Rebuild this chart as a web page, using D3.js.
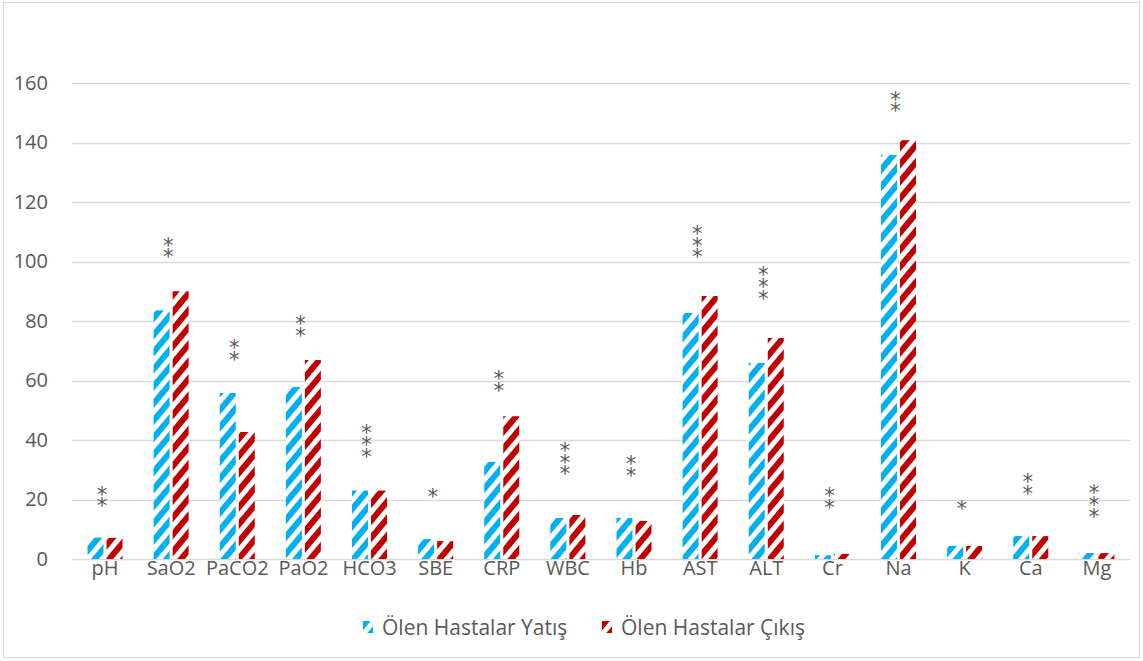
<!DOCTYPE html>
<html>
<head>
<meta charset="utf-8">
<script src="https://cdn.jsdelivr.net/npm/d3@7"></script>
<style>
    body { margin: 0; background: #fff; }
    text { font-family: "Open Sans", Lato, sans-serif; fill: #595959; }
</style>
</head>
<body>
<svg id="chart" width="1143" height="661"></svg>
<script>
// values
var categories = ['pH', 'SaO2', 'PaCO2', 'PaO2', 'HCO3', 'SBE', 'CRP', 'WBC', 'Hb', 'AST', 'ALT', 'Cr', 'Na', 'K', 'Ca', 'Mg'];
var seriesNames = ['Ölen Hastalar Yatış', 'Ölen Hastalar Çıkış'];
var yatis = [7.2, 83.6, 55.8, 57.8, 23, 6.7, 32.6, 13.8, 13.8, 82.7, 65.9, 1.3, 135.8, 4.4, 7.7, 2];
var cikis = [7.1, 90, 42.7, 66.9, 23, 6, 48, 14.8, 12.8, 88.4, 74.3, 1.7, 140.8, 4.4, 7.7, 2];
// significance stars: count and value level of the lowest star
var starCount = [2, 2, 2, 2, 3, 1, 2, 3, 2, 3, 3, 2, 2, 1, 2, 3];
var starLevel = [19.2, 103, 68.6, 76.6, 36, 22.5, 58, 30, 29.6, 102.9, 89, 18.8, 152, 18.5, 23.5, 15.8];
var yTicks = [0, 20, 40, 60, 80, 100, 120, 140, 160];
var colors = ['#00b0f0', '#c00000'];

document.addEventListener("DOMContentLoaded", function(){
    var svg = d3.select('#chart');

    var left = 72, right = 1130, top = 83, bottom = 559;
    var starStep = 11.7, starSize = 21;

    var defs = svg.append('defs');
    colors.forEach(function(c, i){
        var p = defs.append('pattern')
            .attr('id', 'stripe' + i)
            .attr('patternUnits', 'userSpaceOnUse')
            .attr('width', 11)
            .attr('height', 11)
            .attr('patternTransform', 'rotate(40)');
        p.append('rect')
            .attr('width', 11).attr('height', 11)
            .attr('fill', '#fff');
        p.append('rect')
            .attr('width', 6).attr('height', 11)
            .attr('fill', c);
    });

    // outer frame
    svg.append('rect')
        .attr('x', 3.5).attr('y', 2.5)
        .attr('width', 1136).attr('height', 655)
        .attr('fill', '#fff')
        .attr('stroke', '#d9d9d9');

    var x = d3.scaleBand()
        .domain(categories)
        .range([left, right]);

    var x1 = d3.scaleBand()
        .domain([0, 1])
        .range([15.5, 50.5])
        .paddingInner(0.16);

    var y = d3.scaleLinear()
        .domain([0, 160])
        .range([bottom, top]);

    // gridlines
    svg.append('g')
        .selectAll('line')
        .data(yTicks)
        .enter()
        .append('line')
        .attr('x1', left)
        .attr('x2', right)
        .attr('y1', function(d){ return Math.round(y(d)) + 0.5; })
        .attr('y2', function(d){ return Math.round(y(d)) + 0.5; })
        .attr('stroke', '#d9d9d9')
        .attr('stroke-width', 1.5);

    // y labels
    var yAxis = d3.axisLeft(y).tickValues(yTicks).tickSize(0).tickPadding(0);
    var gy = svg.append('g')
        .attr('transform', 'translate(48,0)')
        .call(yAxis);
    gy.select('.domain').remove();
    gy.selectAll('text')
        .style('font-size', '20px')
        .style('font-family', '"Open Sans", sans-serif')
        .attr('fill', '#595959');

    // x labels
    var xAxis = d3.axisBottom(x).tickSize(0).tickPadding(0);
    var gx = svg.append('g')
        .attr('transform', 'translate(0,' + bottom + ')')
        .call(xAxis);
    gx.select('.domain').remove();
    gx.selectAll('text')
        .attr('dy', '0.8em')
        .style('font-size', '20px')
        .style('font-family', '"Open Sans", sans-serif')
        .attr('fill', '#595959');

    // bars
    var series = [yatis, cikis];
    series.forEach(function(vals, si){
        svg.append('g')
            .selectAll('rect')
            .data(vals)
            .enter()
            .append('rect')
            .attr('x', function(d, i){ return x(categories[i]) + x1(si); })
            .attr('width', x1.bandwidth())
            .attr('y', function(d){ return y(d); })
            .attr('height', function(d){ return bottom - y(d); })
            .attr('fill', 'url(#stripe' + si + ')');
    });

    // stars: one vertical text per category
    var probe = svg.append('text')
        .style('font-family', '"DejaVu Sans", sans-serif')
        .style('font-size', starSize + 'px')
        .style('writing-mode', 'vertical-rl')
        .style('text-orientation', 'upright')
        .text('*');
    var adv = probe.node().getComputedTextLength();
    probe.remove();

    svg.append('g')
        .selectAll('text')
        .data(categories)
        .enter()
        .append('text')
        .attr('x', function(d){ return x(d) + x.bandwidth() / 2 - 3; })
        .attr('y', function(d, i){
            // baseline of the top star, then back up by the ascent
            var base = y(starLevel[i]) + 0.4 + 0.56 * starSize - (starCount[i] - 1) * starStep;
            return base - 0.93 * starSize;
        })
        .style('font-family', '"DejaVu Sans", sans-serif')
        .style('font-size', starSize + 'px')
        .style('writing-mode', 'vertical-rl')
        .style('text-orientation', 'upright')
        .style('letter-spacing', (starStep - adv) + 'px')
        .attr('fill', '#595959')
        .text(function(d, i){ return '*'.repeat(starCount[i]); });

    // legend
    var legendX = [363, 602];
    var legend = svg.append('g')
        .selectAll('g')
        .data(seriesNames)
        .enter()
        .append('g')
        .attr('transform', function(d, i){ return 'translate(' + legendX[i] + ',621)'; });
    legend.append('rect')
        .attr('width', 10)
        .attr('height', 12)
        .attr('fill', function(d, i){ return 'url(#stripe' + i + ')'; });
    legend.append('text')
        .attr('x', 19)
        .attr('y', 13.5)
        .style('font-size', '21px')
        .text(function(d){ return d; });
});
</script>
</body>
</html>
